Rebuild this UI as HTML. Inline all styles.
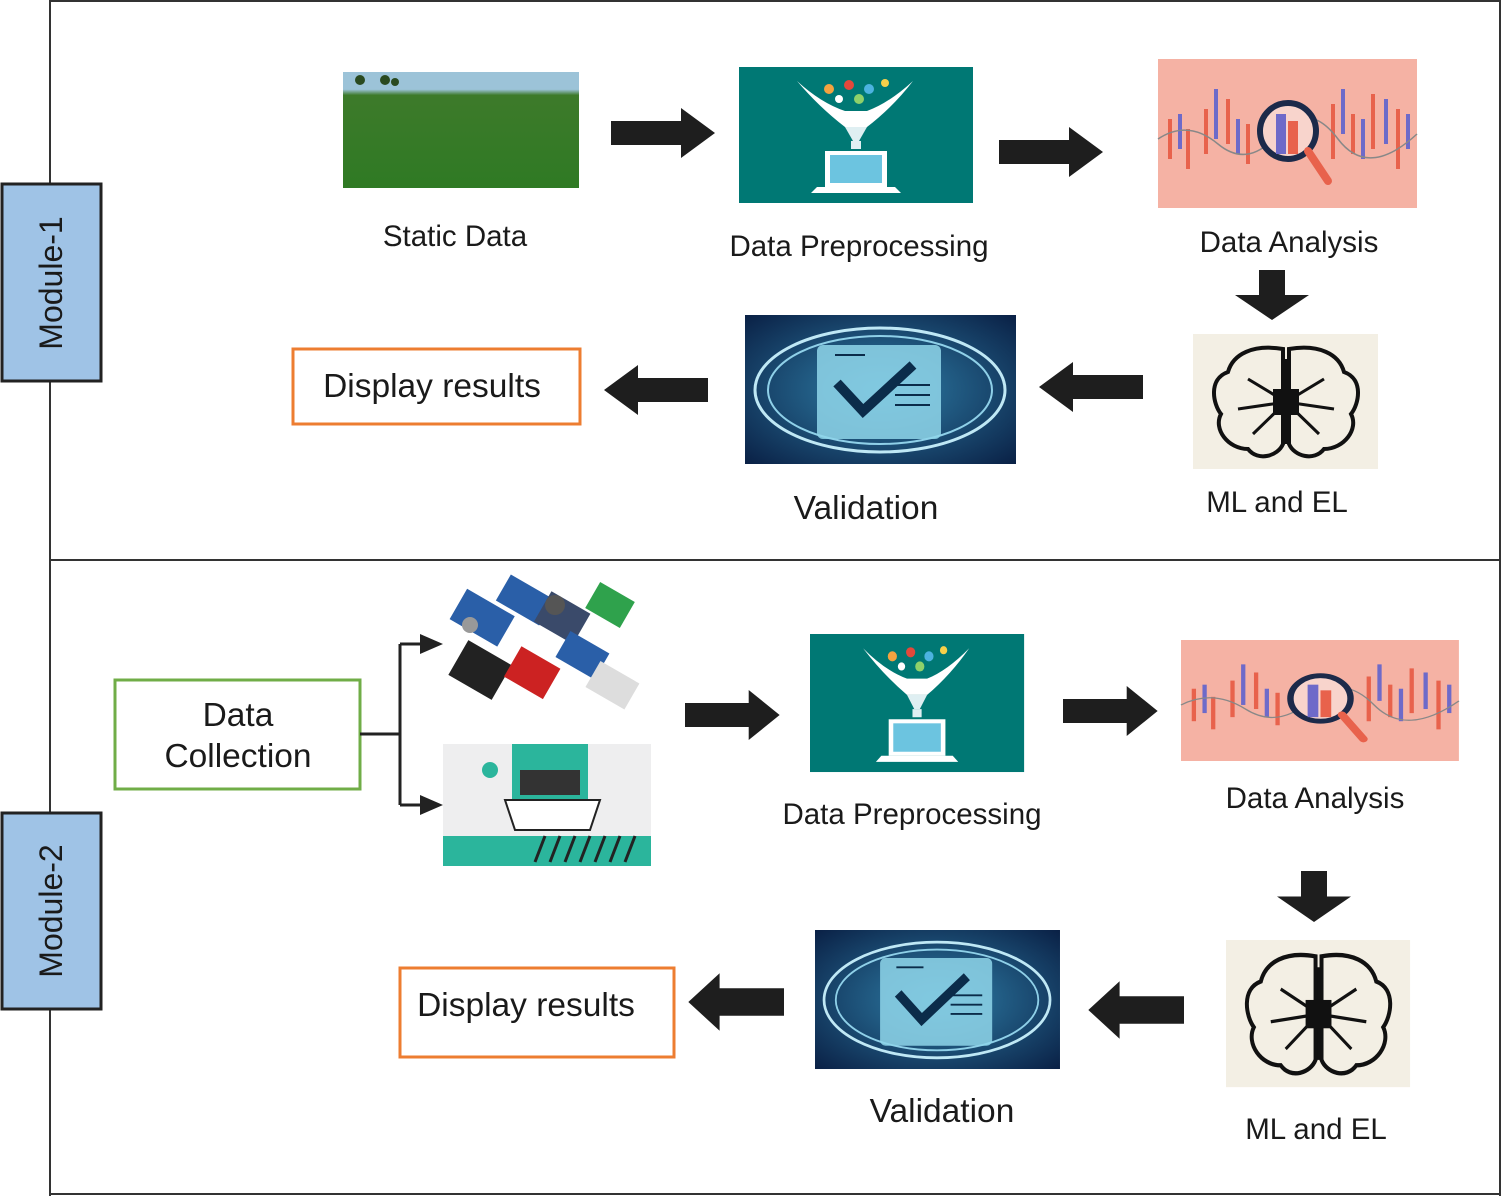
<!DOCTYPE html>
<html><head><meta charset="utf-8"><style>
html,body{margin:0;padding:0;background:#fff;}
svg{display:block;}
text{font-family:"Liberation Sans",sans-serif;fill:#1a1a1a;}
</style></head><body>
<svg width="1502" height="1202" viewBox="0 0 1502 1202" xmlns="http://www.w3.org/2000/svg">
<defs>
<linearGradient id="fld" x1="0" y1="0" x2="0" y2="1"><stop offset="0" stop-color="#9cc3d8"/><stop offset="0.15" stop-color="#9cc3d8"/><stop offset="0.2" stop-color="#3d7a2a"/><stop offset="1" stop-color="#2f7a24"/></linearGradient>
<radialGradient id="val" cx="0.5" cy="0.5" r="0.7"><stop offset="0" stop-color="#2f7fa8"/><stop offset="1" stop-color="#0a2146"/></radialGradient>
<g id="arrR"><path d="M0,-12 H70 V-25 L104,0 L70,25 V12 H0 Z" fill="#1e1e1e"/></g>
<g id="arrD"><path d="M-13,0 V25 H-37 L0,50 L37,25 H13 V0 Z" fill="#1e1e1e"/></g>
<g id="prep">
<rect width="234" height="136" fill="#007874"/>
<path d="M58,14 Q80,40 106,60 L128,60 Q154,40 174,14 Q150,36 128,44 L106,44 Q82,36 58,14 Z" fill="#fff"/>
<circle cx="90" cy="22" r="5" fill="#f4a340"/><circle cx="110" cy="18" r="5" fill="#e4483b"/><circle cx="130" cy="22" r="5" fill="#4cb3e0"/><circle cx="146" cy="16" r="4" fill="#f7d04a"/><circle cx="120" cy="32" r="5" fill="#8fd16a"/><circle cx="100" cy="32" r="4" fill="#fff"/>
<path d="M106,60 H128 L120,74 H114 Z" fill="#dfeff2"/>
<rect x="112" y="74" width="10" height="8" fill="#dfeff2"/>
<rect x="86" y="84" width="62" height="36" fill="#ffffff"/><rect x="91" y="88" width="52" height="28" fill="#6cc4e0"/>
<path d="M78,120 H156 L162,126 H72 Z" fill="#fff"/>
</g>
<g id="ana">
<rect width="259" height="149" fill="#f5b2a4"/>
<g stroke="#e8624c" stroke-width="4"><line x1="12" y1="60" x2="12" y2="100"/><line x1="30" y1="70" x2="30" y2="110"/><line x1="48" y1="50" x2="48" y2="95"/><line x1="70" y1="40" x2="70" y2="85"/><line x1="90" y1="65" x2="90" y2="105"/><line x1="175" y1="45" x2="175" y2="100"/><line x1="195" y1="55" x2="195" y2="95"/><line x1="215" y1="35" x2="215" y2="90"/><line x1="240" y1="50" x2="240" y2="110"/></g>
<g stroke="#6e6ac9" stroke-width="4"><line x1="22" y1="55" x2="22" y2="90"/><line x1="58" y1="30" x2="58" y2="80"/><line x1="80" y1="60" x2="80" y2="95"/><line x1="185" y1="30" x2="185" y2="75"/><line x1="205" y1="60" x2="205" y2="100"/><line x1="228" y1="40" x2="228" y2="85"/><line x1="250" y1="55" x2="250" y2="90"/></g>
<path d="M0,80 Q30,60 60,85 T120,75 T180,80 T259,75" stroke="#888" fill="none" stroke-width="1.5"/>
<circle cx="130" cy="72" r="28" fill="#f8d4cc" stroke="#1c2a4a" stroke-width="6"/>
<rect x="118" y="55" width="10" height="40" fill="#6e6ac9"/><rect x="130" y="62" width="10" height="33" fill="#e8624c"/>
<line x1="150" y1="92" x2="170" y2="122" stroke="#e8624c" stroke-width="8" stroke-linecap="round"/>
</g>
<g id="brain">
<rect width="185" height="135" fill="#f3efe4"/>
<path d="M90,15 C60,10 40,20 35,38 C15,45 20,70 28,80 C20,95 35,115 55,115 C65,128 85,122 90,110 Z" fill="none" stroke="#111" stroke-width="4"/>
<path d="M96,15 C126,10 146,20 151,38 C171,45 166,70 158,80 C166,95 151,115 131,115 C121,128 101,122 96,110 Z" fill="none" stroke="#111" stroke-width="4"/>
<g stroke="#111" stroke-width="3" fill="none"><path d="M93,68 L55,45"/><path d="M93,68 L45,75"/><path d="M93,68 L60,100"/><path d="M93,68 L131,45"/><path d="M93,68 L141,75"/><path d="M93,68 L126,100"/><path d="M93,68 V25"/><path d="M93,68 V110"/></g>
<rect x="80" y="55" width="26" height="26" fill="#111"/>
</g>
<g id="valid">
<rect width="271" height="149" fill="url(#val)"/>
<ellipse cx="135" cy="75" rx="125" ry="62" fill="none" stroke="#bfe8f5" stroke-width="3"/>
<ellipse cx="135" cy="75" rx="112" ry="54" fill="none" stroke="#8fd0e8" stroke-width="2"/>
<rect x="72" y="30" width="124" height="94" rx="6" fill="#8fd6ea" opacity="0.85"/>
<path d="M92,68 L118,96 L168,50" stroke="#0b2c4a" stroke-width="10" fill="none"/>
<g stroke="#0b2c4a" stroke-width="2"><line x1="150" y1="70" x2="185" y2="70"/><line x1="150" y1="80" x2="185" y2="80"/><line x1="150" y1="90" x2="185" y2="90"/><line x1="90" y1="40" x2="120" y2="40"/></g>
</g>
</defs>

<g stroke="#333" stroke-width="2" fill="none">
<line x1="50" y1="0" x2="50" y2="1196"/>
<line x1="50" y1="1" x2="1501" y2="1"/>
<line x1="1500" y1="0" x2="1500" y2="1196"/>
<line x1="50" y1="560" x2="1501" y2="560"/>
<line x1="50" y1="1194" x2="1501" y2="1194"/>
</g>

<rect x="2" y="184" width="99" height="197" fill="#9fc3e6" stroke="#222" stroke-width="3"/>
<text transform="translate(62,283) rotate(-90)" text-anchor="middle" font-size="32">Module-1</text>
<rect x="2" y="813" width="99" height="196" fill="#9fc3e6" stroke="#222" stroke-width="3"/>
<text transform="translate(62,911) rotate(-90)" text-anchor="middle" font-size="32">Module-2</text>

<rect x="343" y="72" width="236" height="116" fill="url(#fld)"/>
<g fill="#2a4a20"><circle cx="360" cy="80" r="5"/><circle cx="385" cy="80" r="5"/><circle cx="395" cy="82" r="4"/></g>
<text x="455" y="246" text-anchor="middle" font-size="29.5">Static Data</text>
<use href="#arrR" x="611" y="133"/>
<use href="#prep" x="739" y="67"/>
<text x="859" y="256" text-anchor="middle" font-size="29.5">Data Preprocessing</text>
<use href="#arrR" x="999" y="152"/>
<use href="#ana" x="1158" y="59"/>
<text x="1289" y="252" text-anchor="middle" font-size="29.5">Data Analysis</text>
<use href="#arrD" x="1272" y="270"/>
<use href="#brain" x="1193" y="334"/>
<text x="1277" y="512" text-anchor="middle" font-size="29.5">ML and EL</text>
<use href="#arrR" transform="translate(1143,387) scale(-1,1)"/>
<use href="#valid" x="745" y="315"/>
<text x="866" y="519" text-anchor="middle" font-size="33.5">Validation</text>
<use href="#arrR" transform="translate(708,390) scale(-1,1)"/>
<rect x="293" y="349" width="287" height="75" fill="none" stroke="#ed7d31" stroke-width="3"/>
<text x="432" y="397" text-anchor="middle" font-size="33.5">Display results</text>

<rect x="115" y="680" width="245" height="109" fill="none" stroke="#70ad47" stroke-width="3"/>
<text x="238" y="726" text-anchor="middle" font-size="33.5">Data</text>
<text x="238" y="767" text-anchor="middle" font-size="33.5">Collection</text>
<g stroke="#222" stroke-width="3" fill="none">
<line x1="360" y1="734" x2="400" y2="734"/>
<line x1="400" y1="644" x2="400" y2="805"/>
<line x1="400" y1="644" x2="425" y2="644"/>
<line x1="400" y1="805" x2="425" y2="805"/>
</g>
<path d="M420,634 L443,644 L420,654 Z" fill="#222"/>
<path d="M420,795 L443,805 L420,815 Z" fill="#222"/>
<g>
<rect x="455" y="600" width="55" height="35" fill="#2a5fa8" transform="rotate(30 482 617)"/>
<rect x="500" y="585" width="50" height="30" fill="#2a5fa8" transform="rotate(30 525 600)"/>
<rect x="540" y="600" width="45" height="35" fill="#3a4a6a" transform="rotate(30 562 617)"/>
<rect x="590" y="590" width="40" height="30" fill="#2fa24c" transform="rotate(30 610 605)"/>
<rect x="455" y="650" width="50" height="40" fill="#222" transform="rotate(30 480 670)"/>
<rect x="510" y="655" width="45" height="35" fill="#c22" transform="rotate(30 532 672)"/>
<rect x="560" y="640" width="45" height="30" fill="#2a5fa8" transform="rotate(30 582 655)"/>
<rect x="590" y="670" width="45" height="30" fill="#ddd" transform="rotate(30 612 685)"/>
<circle cx="470" cy="625" r="8" fill="#999"/><circle cx="555" cy="605" r="10" fill="#555"/>
</g>
<rect x="443" y="744" width="208" height="122" fill="#eeeeef"/>
<rect x="443" y="836" width="208" height="30" fill="#2bb59c"/>
<g stroke="#222" stroke-width="3"><line x1="535" y1="862" x2="545" y2="836"/><line x1="550" y1="862" x2="560" y2="836"/><line x1="565" y1="862" x2="575" y2="836"/><line x1="580" y1="862" x2="590" y2="836"/><line x1="595" y1="862" x2="605" y2="836"/><line x1="610" y1="862" x2="620" y2="836"/><line x1="625" y1="862" x2="635" y2="836"/></g>
<rect x="512" y="744" width="76" height="55" fill="#2bb59c"/>
<rect x="520" y="770" width="60" height="25" fill="#333"/>
<circle cx="490" cy="770" r="8" fill="#2bb59c"/>
<path d="M505,800 H600 L590,830 H515 Z" fill="#fff" stroke="#222" stroke-width="2"/>
<use href="#arrR" transform="translate(685,715) scale(0.91,1)"/>
<use href="#prep" transform="translate(810,634) scale(0.915,1.015)"/>
<text x="912" y="824" text-anchor="middle" font-size="29.5">Data Preprocessing</text>
<use href="#arrR" transform="translate(1063,711) scale(0.91,1)"/>
<use href="#ana" transform="translate(1181,640) scale(1.073,0.812)"/>
<text x="1315" y="808" text-anchor="middle" font-size="29.5">Data Analysis</text>
<use href="#arrD" transform="translate(1314,871) scale(1,1.02)"/>
<use href="#brain" transform="translate(1226,940) scale(0.995,1.09)"/>
<text x="1316" y="1139" text-anchor="middle" font-size="29.5">ML and EL</text>
<use href="#arrR" transform="translate(1184,1010) scale(-0.92,1.15)"/>
<use href="#valid" transform="translate(815,930) scale(0.904,0.933)"/>
<text x="942" y="1122" text-anchor="middle" font-size="33.5">Validation</text>
<use href="#arrR" transform="translate(784,1002) scale(-0.92,1.15)"/>
<rect x="400" y="968" width="274" height="89" fill="none" stroke="#ed7d31" stroke-width="3"/>
<text x="526" y="1016" text-anchor="middle" font-size="33.5">Display results</text>
</svg>
</body></html>
